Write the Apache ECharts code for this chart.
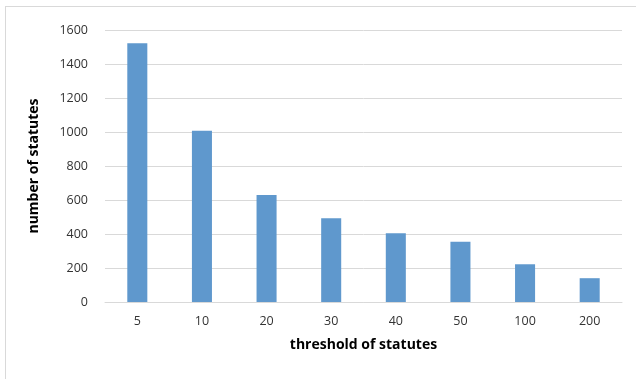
<!DOCTYPE html>
<html><head><meta charset="utf-8">
<script src="https://cdn.jsdelivr.net/npm/echarts@6/dist/echarts.min.js"></script>
<style>
html,body{margin:0;padding:0;background:#fff;}
#frame{position:absolute;left:5px;top:6px;width:640px;height:380px;border:1px solid #d9d9d9;box-sizing:border-box;}
#c{position:absolute;left:0;top:0;width:636px;height:379px;}
</style></head>
<body><div id="frame"></div><div id="c"></div>
<script>
const categories = ['5','10','20','30','40','50','100','200'];
const values = [1522, 1007, 630, 492, 404, 355, 222, 140];
const yTicks = [0, 200, 400, 600, 800, 1000, 1200, 1400, 1600];

const chart = echarts.init(document.getElementById('c'), null, {renderer:'canvas'});
chart.setOption({
  animation:false,
  grid:{left:105, right:14, top:30, bottom:77, containLabel:false},
  xAxis:{
    type:'category', data:categories,
    name:'threshold of statutes', nameLocation:'middle', nameGap:36,
    nameTextStyle:{fontFamily:'Open Sans', fontWeight:'bold', fontSize:14, color:'#000'},
    axisLine:{show:true, lineStyle:{color:'#d9d9d9', width:1}},
    axisTick:{show:false},
    axisLabel:{fontFamily:'Open Sans', fontSize:12.5, color:'#333', margin:13}
  },
  yAxis:{
    type:'value', min:0, max:1600, interval:200,
    name:'number of statutes', nameLocation:'middle', nameGap:64,
    nameTextStyle:{fontFamily:'Open Sans', fontWeight:'bold', fontSize:14, color:'#000'},
    axisLine:{show:false}, axisTick:{show:false},
    axisLabel:{fontFamily:'Open Sans', fontSize:12.5, color:'#333', margin:17,
      formatter:function(v){return yTicks.indexOf(v)>=0 ? String(v) : '';}},
    splitLine:{lineStyle:{color:'#d9d9d9', width:1}}
  },
  series:[{
    type:'bar', data:values, barWidth:'31%',
    itemStyle:{color:'#5f98cd'}
  }]
});
</script></body></html>
